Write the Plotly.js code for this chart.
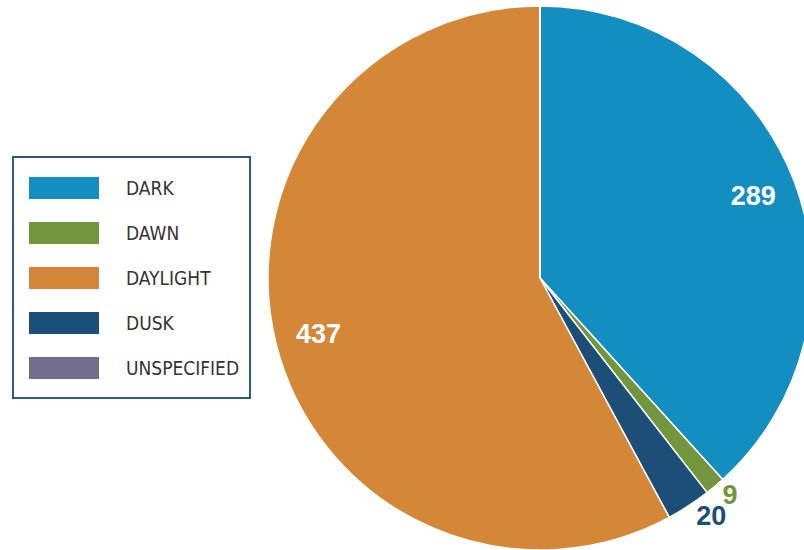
<!DOCTYPE html>
<html>
<head>
<meta charset="utf-8">
<script src="https://cdn.plot.ly/plotly-3.0.1.min.js"></script>
<style>
html, body { margin: 0; padding: 0; overflow: hidden; background: #fff; width: 804px; height: 550px; }
#chart { width: 830px; height: 550px; }
</style>
</head>
<body>
<div id="chart"></div>
<script>
// Data (slice order, clockwise from 12 o'clock)
const sliceLabels = ['DARK', 'DAWN', 'DUSK', 'DAYLIGHT', 'UNSPECIFIED'];
const sliceValues = [289, 9, 20, 437, 0];
// Legend order
const legendLabels = ['DARK', 'DAWN', 'DAYLIGHT', 'DUSK', 'UNSPECIFIED'];
const colorMap = {
  'DARK': '#138EC0',
  'DAWN': '#73963C',
  'DAYLIGHT': '#D58738',
  'DUSK': '#1B4F77',
  'UNSPECIFIED': '#736D8C'
};
const outsideLabels = ['DAWN', 'DUSK'];

const W = 830, H = 550;
const NUMFONT = '"Liberation Sans", Arial, sans-serif';
const LEGFONT = '"DejaVu Sans Condensed", "Liberation Sans", sans-serif';
const domain = { x: [268 / W, 812 / W], y: [0, 544 / H] };
const clear = sliceLabels.map(() => 'rgba(0,0,0,0)');

// Main pie: coloured slices, no text
const mainPie = {
  type: 'pie', labels: sliceLabels, values: sliceValues,
  sort: false, direction: 'clockwise', rotation: 0,
  textinfo: 'none',
  marker: { colors: sliceLabels.map(l => colorMap[l]), line: { color: '#ffffff', width: 1.5 } },
  domain: domain, showlegend: false, hoverinfo: 'label+value'
};

// Overlay ring (transparent) carrying the inside value labels
const insidePie = {
  type: 'pie', labels: sliceLabels, values: sliceValues,
  sort: false, direction: 'clockwise', rotation: 0, hole: 0.68,
  textinfo: 'value',
  textposition: sliceLabels.map((l, i) => (outsideLabels.includes(l) || sliceValues[i] === 0) ? 'none' : 'inside'),
  insidetextorientation: 'horizontal',
  textfont: { family: NUMFONT, size: 27, color: '#ffffff', weight: 'bold' },
  marker: { colors: clear, line: { width: 0 } },
  domain: domain, showlegend: false, hoverinfo: 'skip'
};

// One transparent overlay per outside label so they never collide
const outsidePies = outsideLabels.map(lab => ({
  type: 'pie', labels: sliceLabels, values: sliceValues,
  sort: false, direction: 'clockwise', rotation: 0,
  textinfo: 'value',
  textposition: sliceLabels.map(l => l === lab ? 'outside' : 'none'),
  outsidetextfont: { family: NUMFONT, size: 27, color: colorMap[lab], weight: 'bold' },
  marker: { colors: clear, line: { width: 0 } },
  domain: domain, showlegend: false, hoverinfo: 'skip'
}));

// Custom legend built from legendLabels
const px = x => x / W;
const py = y => 1 - y / H;
const shapes = [{
  type: 'rect', xref: 'paper', yref: 'paper',
  x0: px(13), x1: px(250), y0: py(157), y1: py(398),
  line: { color: '#2A5A85', width: 2 }, fillcolor: 'rgba(0,0,0,0)'
}];
const annotations = [];
legendLabels.forEach((lab, i) => {
  const cy = 188 + i * 45;
  shapes.push({
    type: 'rect', xref: 'paper', yref: 'paper',
    x0: px(29), x1: px(99), y0: py(cy + 11), y1: py(cy - 11),
    line: { width: 0 }, fillcolor: colorMap[lab]
  });
  annotations.push({
    xref: 'paper', yref: 'paper', x: px(124), y: py(cy),
    xanchor: 'left', yanchor: 'middle', showarrow: false,
    text: lab, font: { family: LEGFONT, size: 19, color: '#333333' }
  });
});

const layout = {
  width: W, height: H,
  margin: { l: 0, r: 0, t: 0, b: 0 },
  paper_bgcolor: '#ffffff',
  shapes: shapes,
  annotations: annotations,
  showlegend: false
};

Plotly.newPlot('chart', [mainPie, insidePie].concat(outsidePies), layout, { displayModeBar: false, staticPlot: true });
</script>
</body>
</html>
